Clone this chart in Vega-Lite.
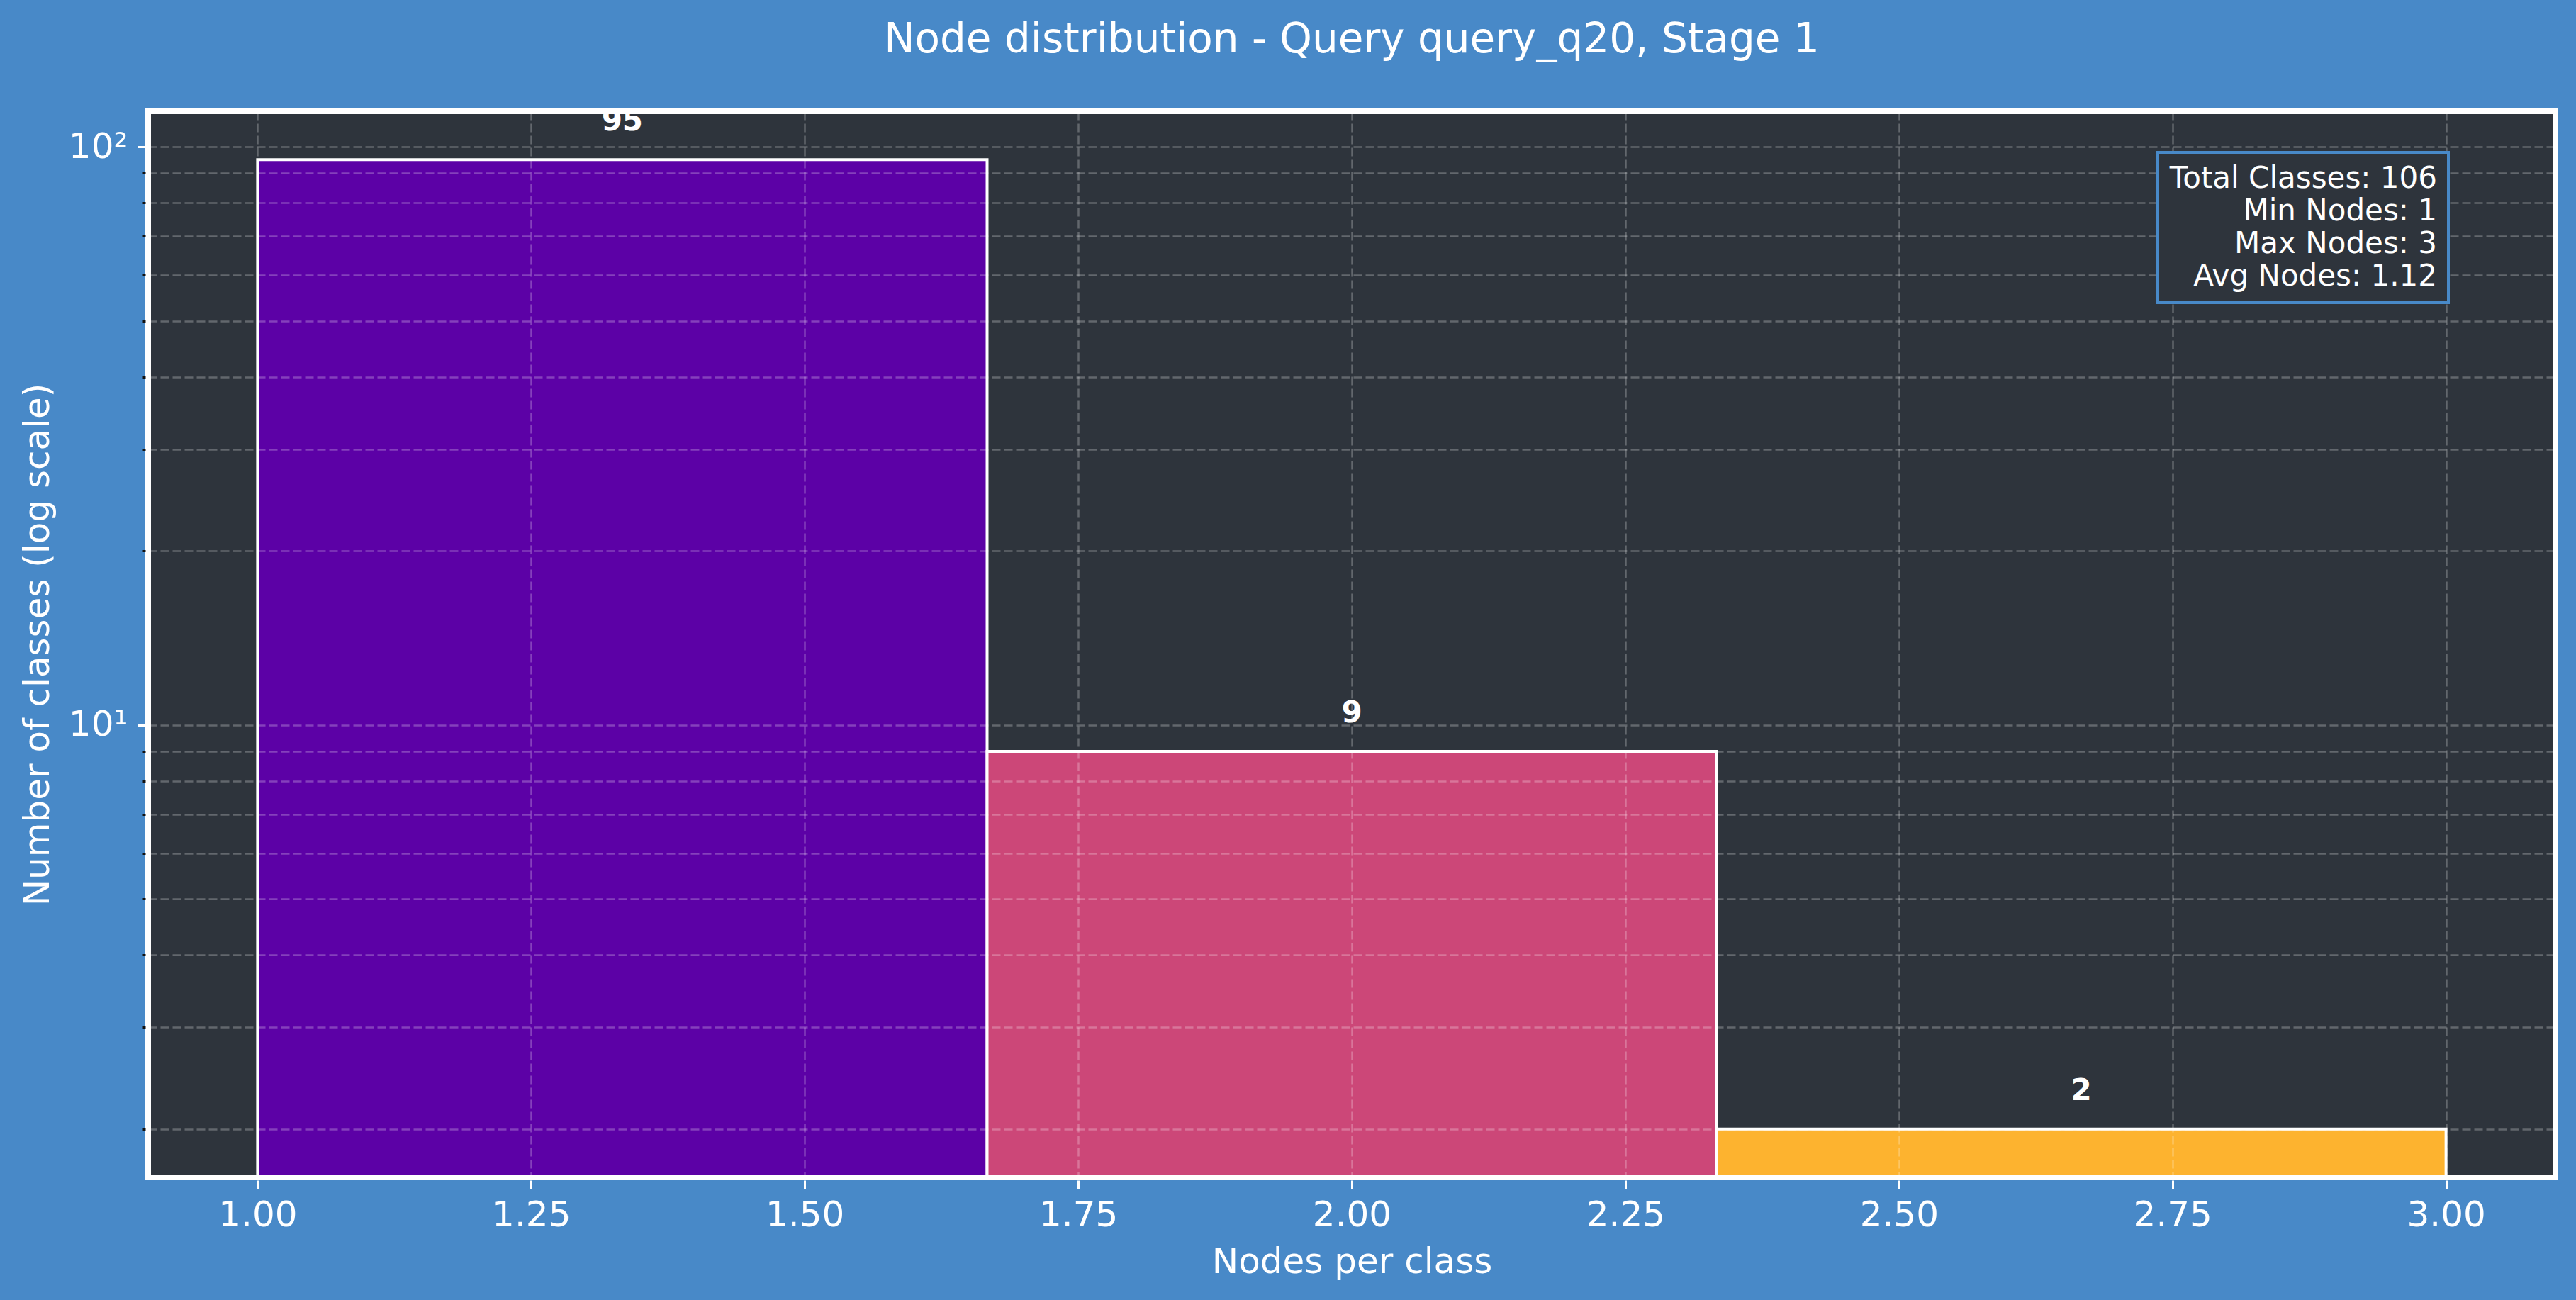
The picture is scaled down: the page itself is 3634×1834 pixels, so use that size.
{
  "$schema": "https://vega.github.io/schema/vega-lite/v6.json",
  "width": 3396,
  "height": 1504,
  "autosize": {"type": "none"},
  "padding": {"left": 209, "top": 157, "right": 29, "bottom": 173},
  "background": "#4889C8",
  "title": {
    "text": "Node distribution - Query query_q20, Stage 1",
    "fontSize": 58,
    "fontWeight": "normal",
    "color": "white",
    "font": "DejaVu Sans",
    "anchor": "middle",
    "baseline": "alphabetic",
    "frame": "group",
    "offset": 18
  },
  "config": {
    "font": "DejaVu Sans",
    "view": {"stroke": null, "fill": "#2E343C"},
    "legend": {"strokeWidth": 4}
  },
  "datasets": {
    "bins": [
      {"bin": "1.00-1.67", "bin_start": 1.0, "bin_end": 1.6667, "bin_center": 1.3333, "count": 95},
      {"bin": "1.67-2.33", "bin_start": 1.6667, "bin_end": 2.3333, "bin_center": 2.0, "count": 9},
      {"bin": "2.33-3.00", "bin_start": 2.3333, "bin_end": 3.0, "bin_center": 2.6667, "count": 2}
    ],
    "stats": [
      {"stat": "Total Classes: 106"},
      {"stat": "Min Nodes: 1"},
      {"stat": "Max Nodes: 3"},
      {"stat": "Avg Nodes: 1.12"}
    ]
  },
  "layer": [
    {
      "data": {"values": [{}]},
      "mark": {"type": "rect", "fill": "#2E343C", "strokeWidth": 0},
      "encoding": {
        "x": {"datum": 0.9},
        "x2": {"datum": 3.1},
        "y": {"datum": 1.649},
        "y2": {"datum": 115.22}
      }
    },
    {
      "data": {"name": "bins"},
      "mark": {"type": "rect", "stroke": "white", "strokeWidth": 4},
      "encoding": {
        "x": {
          "field": "bin_start",
          "type": "quantitative",
          "scale": {"domain": [0.9, 3.1], "nice": false, "zero": false},
          "axis": {
            "title": "Nodes per class",
            "values": [1, 1.25, 1.5, 1.75, 2, 2.25, 2.5, 2.75, 3],
            "format": ".2f",
            "labelFontSize": 50,
            "labelColor": "white",
            "labelPadding": 12,
            "labelFlush": false,
            "labelOverlap": false,
            "tickColor": "white",
            "tickSize": 12,
            "tickWidth": 3,
            "offset": 4,
            "domain": false,
            "grid": true,
            "gridColor": "white",
            "gridOpacity": 0.25,
            "gridDash": [12, 5],
            "gridWidth": 2.5,
            "titleFontSize": 50,
            "titleColor": "white",
            "titleFontWeight": "normal",
            "titlePadding": 16,
            "zindex": 1
          }
        },
        "x2": {"field": "bin_end"},
        "y": {
          "field": "count",
          "type": "quantitative",
          "scale": {"type": "log", "domain": [1.649, 115.22], "nice": false},
          "axis": {
            "title": "Number of classes (log scale)",
            "values": [2, 3, 4, 5, 6, 7, 8, 9, 10, 20, 30, 40, 50, 60, 70, 80, 90, 100],
            "labelExpr": "datum.value == 10 ? '10¹' : datum.value == 100 ? '10²' : ''",
            "labelFontSize": 50,
            "labelColor": "white",
            "labelPadding": 14,
            "labelOverlap": false,
            "tickColor": {"condition": {"test": "datum.value == 10 || datum.value == 100", "value": "white"}, "value": "#111111"},
            "tickSize": {"condition": {"test": "datum.value == 10 || datum.value == 100", "value": 11}, "value": 4},
            "tickWidth": 3,
            "offset": 4,
            "domain": false,
            "grid": true,
            "gridColor": "white",
            "gridOpacity": 0.25,
            "gridDash": [12, 5],
            "gridWidth": 2.5,
            "titleFontSize": 50,
            "titleColor": "white",
            "titleFontWeight": "normal",
            "titlePadding": 18,
            "zindex": 1
          }
        },
        "y2": {"datum": 1.649},
        "color": {
          "field": "bin",
          "type": "nominal",
          "scale": {"domain": ["1.00-1.67", "1.67-2.33", "2.33-3.00"], "range": ["#5C01A6", "#CC4778", "#FDB32F"]},
          "legend": null
        }
      }
    },
    {
      "data": {"name": "bins"},
      "mark": {"type": "text", "fontSize": 42, "fontWeight": "bold", "color": "white", "baseline": "alphabetic", "align": "center", "dy": -41},
      "encoding": {
        "x": {"field": "bin_center", "type": "quantitative"},
        "y": {"field": "count", "type": "quantitative"},
        "text": {"field": "count", "type": "quantitative"}
      }
    },
    {
      "data": {"name": "stats"},
      "mark": {"type": "point", "opacity": 0, "size": 0},
      "encoding": {
        "shape": {
          "field": "stat",
          "type": "nominal",
          "scale": {
            "domain": ["Total Classes: 106", "Min Nodes: 1", "Max Nodes: 3", "Avg Nodes: 1.12"],
            "range": ["circle", "circle", "circle", "circle"]
          },
          "legend": {
            "title": null,
            "orient": "none",
            "legendX": 2835,
            "legendY": 58,
            "fillColor": "#2E343C",
            "strokeColor": "#4889C8",
            "padding": 16,
            "labelFont": "DejaVu Sans",
            "labelFontSize": 42,
            "labelColor": "white",
            "labelLimit": 2000,
            "labelAlign": "right",
            "labelOffset": 336,
            "symbolSize": 0,
            "symbolOpacity": 0,
            "symbolStrokeWidth": 0,
            "rowPadding": 4,
            "zindex": 2
          }
        }
      }
    },
    {
      "data": {"values": [{}]},
      "mark": {"type": "rect", "fillOpacity": 0, "stroke": "white", "strokeWidth": 8},
      "encoding": {
        "x": {"datum": 0.9},
        "x2": {"datum": 3.1},
        "y": {"datum": 1.649},
        "y2": {"datum": 115.22}
      }
    }
  ]
}
